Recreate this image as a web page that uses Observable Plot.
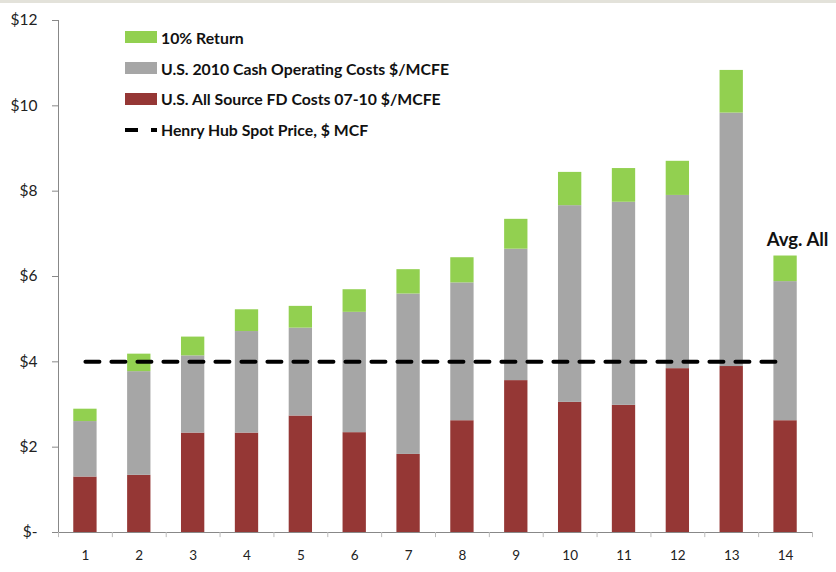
<!DOCTYPE html>
<html><head><meta charset="utf-8">
<script src="https://cdn.jsdelivr.net/npm/d3@7"></script>
<script src="https://cdn.jsdelivr.net/npm/@observablehq/plot@0.6"></script>
<style>
body{margin:0;background:#fff;}
#wrap{position:relative;width:836px;height:572px;overflow:hidden;font-family:Lato,"Open Sans",sans-serif;background:#fff;}
#band{position:absolute;left:0;top:0;width:836px;height:3px;background:#e3e2da;}
#legend{position:absolute;left:125px;top:22px;}
.row{display:flex;align-items:center;height:30.8px;font-weight:bold;font-size:15.8px;color:#111;white-space:nowrap;}
.sw{width:32px;height:12px;margin-right:4px;flex:none;}
</style></head>
<body><div id="wrap"><div id="chart"></div><div id="band"></div><div id="legend"></div></div>
<script>
const categories = ["1","2","3","4","5","6","7","8","9","10","11","12","13","14"];
const seriesNames = ["U.S. All Source FD Costs 07-10 $/MCFE","U.S. 2010 Cash Operating Costs $/MCFE","10% Return"];
const seriesColors = ["#953735","#a6a6a6","#92d050"];
const fdCosts   = [1.30,1.34,2.33,2.33,2.73,2.34,1.83,2.62,3.56,3.05,2.98,3.84,3.89,2.62];
const cashCosts = [1.30,2.43,1.81,2.38,2.06,2.82,3.76,3.23,3.08,4.61,4.76,4.06,5.94,3.26];
const returns   = [0.29,0.41,0.44,0.51,0.51,0.53,0.57,0.59,0.70,0.78,0.79,0.80,1.00,0.60];
const henryHub = 4;
const henryLabel = "Henry Hub Spot Price, $ MCF";
const yTicks = [0,2,4,6,8,10,12];
const avgLabel = "Avg. All";

const rows = [];
categories.forEach((c,i)=>{
  rows.push({cat:c, series:seriesNames[0], value:fdCosts[i]});
  rows.push({cat:c, series:seriesNames[1], value:cashCosts[i]});
  rows.push({cat:c, series:seriesNames[2], value:returns[i]});
});
const lastTop = fdCosts[13]+cashCosts[13]+returns[13];

const W=836,H=572,mL=58,mR=24,mT=20,mB=40;
const step=(W-mL-mR)/categories.length;

const chart = Plot.plot({
  width:W,height:H,marginLeft:mL,marginRight:mR,marginTop:mT,marginBottom:mB,
  style:{fontFamily:'Lato,"Open Sans",sans-serif',background:"transparent",color:"#222",overflow:"visible"},
  x:{domain:categories,paddingInner:0.567,paddingOuter:0.2835,round:false,label:null},
  y:{domain:[0,12],label:null},
  color:{domain:seriesNames,range:seriesColors},
  marks:[
    Plot.barY(rows,{x:"cat",y:"value",fill:"series"}),
    Plot.ruleY([0],{stroke:"#888"}),
    Plot.ruleX([categories[0]],{x:d=>d,y1:0,y2:12,dx:-step/2,stroke:"#888"}),
    Plot.ruleX(categories,{x:d=>d,y1:0,y2:-0.12,dx:-step/2,stroke:"#bbb"}),
    Plot.ruleX([categories[categories.length-1]],{x:d=>d,y1:0,y2:-0.12,dx:step/2,stroke:"#bbb"}),
    Plot.axisY({ticks:yTicks,tickFormat:d=>d===0?"$-":"$"+d,tickSize:6,tickPadding:15,fontSize:15.5,stroke:"#888",fill:"#222"}),
    Plot.axisX({tickSize:0,tickPadding:18,fontSize:13.5,fill:"#222"}),
    Plot.lineY(categories,{x:d=>d,y:()=>henryHub,stroke:"#000",strokeWidth:4,strokeDasharray:"14,12"}),
    Plot.text([avgLabel],{x:()=>categories[13],y:()=>lastTop,text:d=>d,dx:12,dy:-10,lineAnchor:"bottom",fontWeight:"bold",fontSize:18.5,fill:"#111"})
  ]
});
document.getElementById("chart").appendChild(chart);

const legendItems = [
  {label:seriesNames[2],color:seriesColors[2]},
  {label:seriesNames[1],color:seriesColors[1]},
  {label:seriesNames[0],color:seriesColors[0]},
  {label:henryLabel,dash:true}
];
const lg=document.getElementById("legend");
legendItems.forEach(it=>{
  const r=document.createElement("div");r.className="row";
  if(it.dash){
    r.innerHTML='<svg class="sw" width="33" height="12" style="margin-right:4px"><line x1="0" y1="6" x2="33" y2="6" stroke="#000" stroke-width="4" stroke-dasharray="13,13"/></svg>';
  } else {
    const s=document.createElement("div");s.className="sw";s.style.background=it.color;r.appendChild(s);
  }
  const t=document.createElement("span");t.textContent=it.label;r.appendChild(t);
  lg.appendChild(r);
});
</script></body></html>
